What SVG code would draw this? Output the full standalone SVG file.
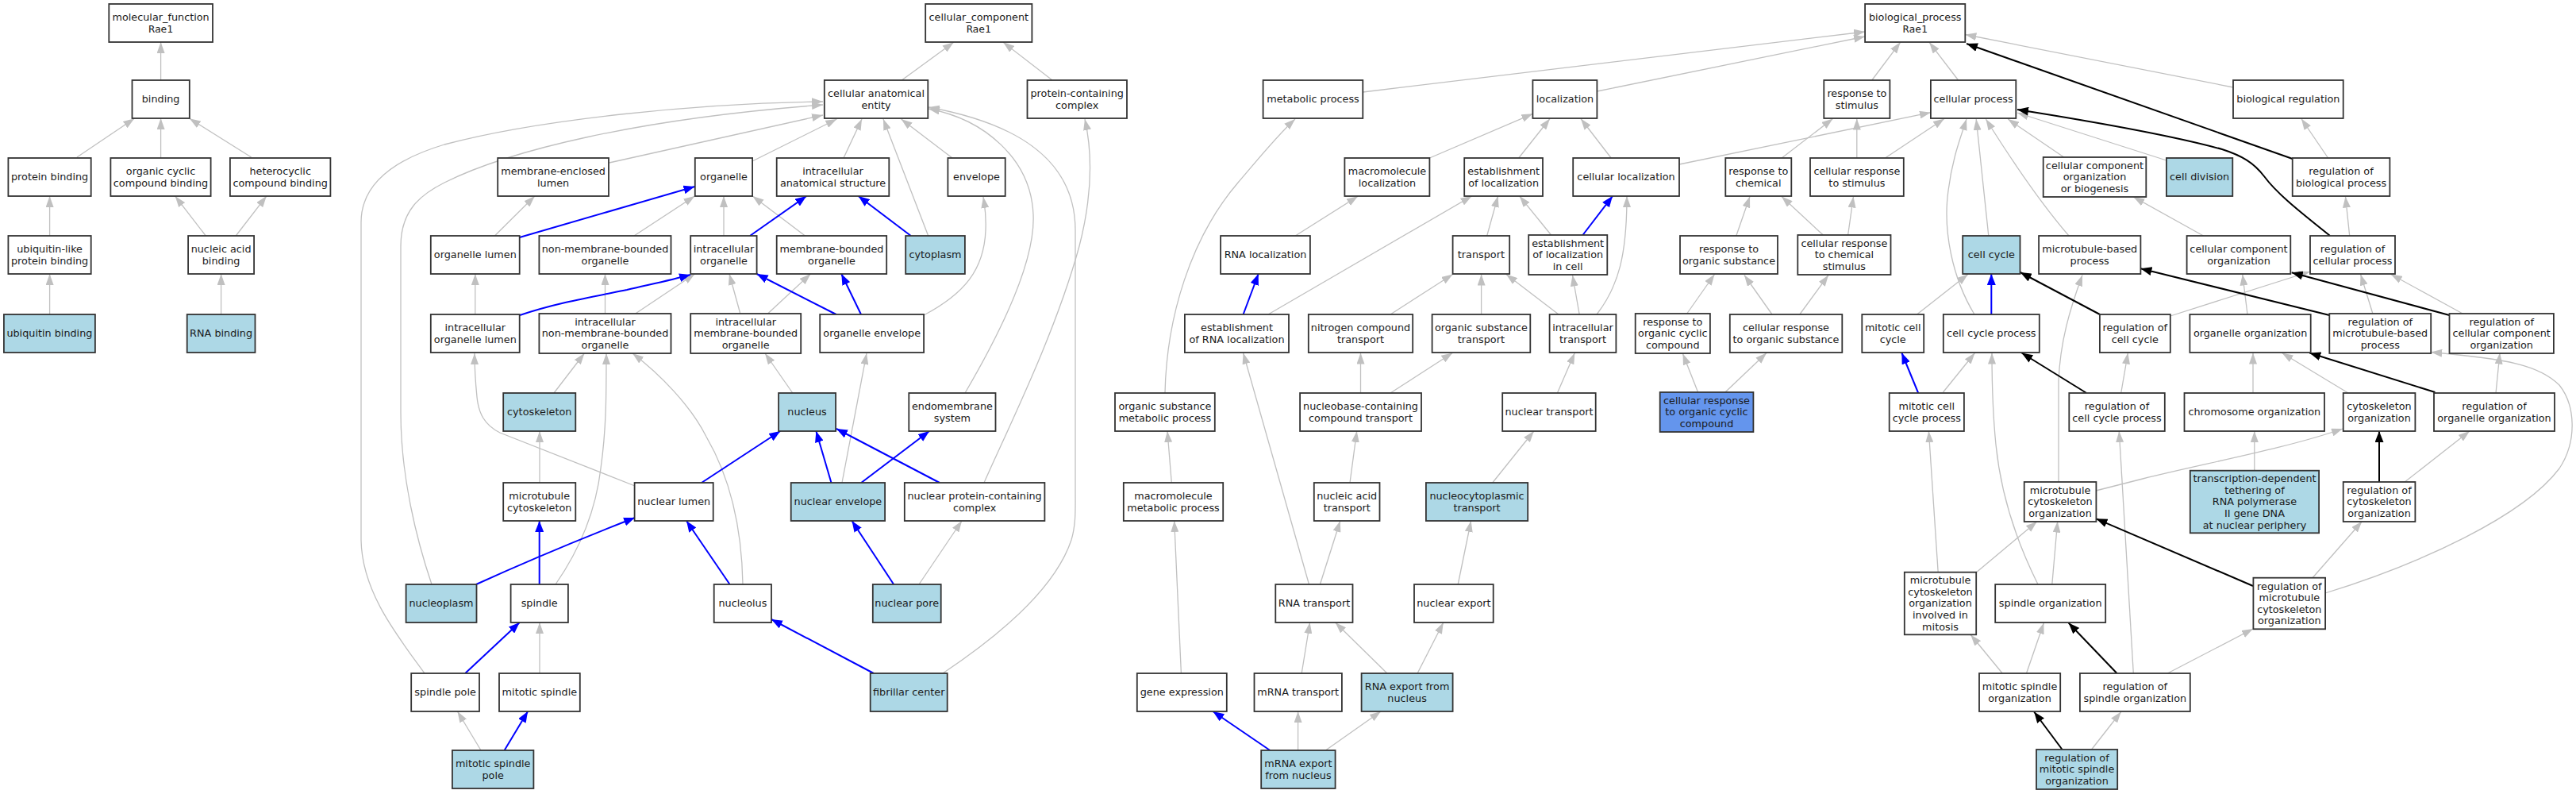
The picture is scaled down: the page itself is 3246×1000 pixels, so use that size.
<svg xmlns="http://www.w3.org/2000/svg" width="3246" height="1000" viewBox="0 0 3246 1000">
<style>
.n rect{fill:#fff;stroke:#333;stroke-width:1.8}
.n.b rect{fill:#add8e6}
.n.c rect{fill:#6495ed}
text{font-family:"DejaVu Sans","Liberation Sans",sans-serif;font-size:12.8px;fill:#1a1a1a;text-anchor:middle}
.mono{font-family:"DejaVu Sans Mono","Liberation Mono",monospace}
#edges path{fill:none}
.g{stroke:#c0c0c0;stroke-width:1.3;marker-end:url(#ag)}
.u{stroke:#0000ff;stroke-width:2;marker-end:url(#au)}
.k{stroke:#000;stroke-width:2;marker-end:url(#ak)}
</style>
<defs>
<marker id="ag" markerUnits="userSpaceOnUse" markerWidth="14" markerHeight="10" refX="14" refY="5" orient="auto"><path d="M0,0 L14,5 L0,10 z" fill="#c0c0c0"/></marker>
<marker id="au" markerUnits="userSpaceOnUse" markerWidth="14" markerHeight="11" refX="14" refY="5.5" orient="auto"><path d="M0,0 L14,5.5 L0,11 z" fill="#0000ff"/></marker>
<marker id="ak" markerUnits="userSpaceOnUse" markerWidth="14" markerHeight="11" refX="14" refY="5.5" orient="auto"><path d="M0,0 L14,5.5 L0,11 z" fill="#000"/></marker>
</defs>
<rect width="3246" height="1000" fill="#fff"/>
<g id="edges">
<path class="g" d="M202.6,101 L202.6,53"/>
<path class="g" d="M97,198 L169.3,149.3"/>
<path class="g" d="M202.6,199 L202.6,149"/>
<path class="g" d="M316.6,198 L238.8,149.3"/>
<path class="g" d="M62.6,297 L62.6,247"/>
<path class="g" d="M259.3,297 L220.7,247"/>
<path class="g" d="M297.2,297 L335.8,247"/>
<path class="g" d="M62.6,396 L62.6,345"/>
<path class="g" d="M278.6,396 L278.6,345"/>
<path class="g" d="M1136.3,101 L1201.7,53.3"/>
<path class="g" d="M1326,101 L1264.2,53.3"/>
<path class="g" d="M767.7,205 L1037,145"/>
<path class="g" d="M948,203 L1054.4,150"/>
<path class="g" d="M1063,199 L1086,150"/>
<path class="g" d="M1169.7,297 L1113,150"/>
<path class="g" d="M1200,199 L1135.6,150"/>
<path class="g" d="M535,848 C500,800 456,745 455,680 L455,280 C455,230 500,200 560,182 C680,150 880,130 1037,128"/>
<path class="g" d="M544,736 C525,680 505,600 505,520 L505,310 C505,265 530,245 560,230 C640,190 800,150 1037,132"/>
<path class="g" d="M1216,495 C1260,420 1305,330 1302,270 C1299,200 1240,150 1170,137"/>
<path class="g" d="M1188,848 C1260,800 1330,740 1350,680 C1356,660 1355,640 1355,620 L1355,290 C1355,200 1280,155 1170,135"/>
<path class="g" d="M1240,608 C1270,540 1330,420 1360,310 C1378,240 1376,190 1367,150"/>
<path class="g" d="M1164,397 C1215,370 1240,340 1242,290 C1243,270 1241,260 1239,248"/>
<path class="g" d="M800,612 L630,545 C610,535 603,520 601,500 C599,480 598,465 598,445"/>
<path class="g" d="M698,495 L736.4,445"/>
<path class="g" d="M700,736 C725,700 750,650 757,590 C764,540 764,500 764,445"/>
<path class="g" d="M936,736 C935,680 925,610 890,550 C870,510 830,470 797,445"/>
<path class="g" d="M998.8,495 L964,445"/>
<path class="g" d="M1061,608 L1092,445"/>
<path class="g" d="M1158,736 L1212,656"/>
<path class="g" d="M680,848 L680,784"/>
<path class="g" d="M606,945 L576.5,896"/>
<path class="g" d="M680,608 L680,543"/>
<path class="g" d="M598.8,396 L598.8,345"/>
<path class="g" d="M623.4,297 L673.8,247"/>
<path class="g" d="M799,297 L875.4,247"/>
<path class="g" d="M912,297 L912,247"/>
<path class="g" d="M1014.5,297 L948.4,247"/>
<path class="g" d="M762.5,395 L762.5,345"/>
<path class="g" d="M800.7,395 L875.5,345"/>
<path class="g" d="M932.8,395 L919,345"/>
<path class="g" d="M967.5,395 L1021.4,345"/>
<path class="u" d="M654.7,299 L875.4,235"/>
<path class="u" d="M945,297 L1016.2,247"/>
<path class="u" d="M1147.8,297 L1081.7,247"/>
<path class="u" d="M655,397 C700,382 740,375 790,365 C820,358 845,353 870,346"/>
<path class="u" d="M1053.7,396 L953.6,345"/>
<path class="u" d="M1085,396 L1060.3,345"/>
<path class="u" d="M884,608 L983.2,543"/>
<path class="u" d="M1047.5,608 L1028.4,543"/>
<path class="u" d="M1184,608 L1054,540"/>
<path class="u" d="M1085.2,608 L1171,543"/>
<path class="u" d="M600,736 Q690,695 800,652"/>
<path class="u" d="M679.7,736 L679.7,656"/>
<path class="u" d="M919.6,736 L865,656"/>
<path class="u" d="M1100.9,848 L972,780"/>
<path class="u" d="M1126.2,736 L1073.5,656"/>
<path class="u" d="M586.2,848 L654.7,784"/>
<path class="u" d="M635.6,945 L665.1,896"/>
<path class="g" d="M1717.3,116 L2350,40"/>
<path class="g" d="M2012.4,115 L2350,46"/>
<path class="g" d="M2358.8,101 L2394.6,53.3"/>
<path class="g" d="M2467.6,101 L2431.1,53.3"/>
<path class="g" d="M2814,110 L2476.3,43.5"/>
<path class="g" d="M2933.6,199 L2899.9,149.5"/>
<path class="g" d="M1801.4,199 L1931.4,143.3"/>
<path class="g" d="M1913.7,199 L1953,149.5"/>
<path class="g" d="M2030.2,199 L1992,149.5"/>
<path class="g" d="M2116,207 L2432.9,141.7"/>
<path class="g" d="M1468,495 C1470,400 1500,300 1560,230 C1590,195 1610,170 1632,150"/>
<path class="g" d="M1632.2,297 L1711,247.3"/>
<path class="g" d="M1598,396 L1854.6,247"/>
<path class="g" d="M1873.7,297 L1887.6,247"/>
<path class="g" d="M1955.4,297 L1914.8,247"/>
<path class="g" d="M2012,396 C2040,360 2050,320 2050,247"/>
<path class="g" d="M1990.2,396 L1981.5,346.5"/>
<path class="g" d="M1964,396 L1898,345.5"/>
<path class="g" d="M1866.6,396 L1866.6,345.5"/>
<path class="g" d="M1752,396 L1830.6,345.5"/>
<path class="g" d="M1714.5,495 L1714.5,444.5"/>
<path class="g" d="M1752,495 L1830.3,444.5"/>
<path class="g" d="M1962.4,495 L1984.3,444.5"/>
<path class="g" d="M1701,608 L1709.7,543"/>
<path class="g" d="M1880.7,608 L1932.8,543"/>
<path class="g" d="M1663.4,736 L1688.8,656"/>
<path class="g" d="M1649.5,736 L1566.6,444.5"/>
<path class="g" d="M1837.2,736 L1853.6,656"/>
<path class="g" d="M1640.2,848 L1650.6,784"/>
<path class="g" d="M1747.9,848 L1682.6,784"/>
<path class="g" d="M1786.1,848 L1818.8,784"/>
<path class="g" d="M1635.6,945 L1635.6,896"/>
<path class="g" d="M1670.4,945 L1740,896"/>
<path class="g" d="M1488.4,848 L1479.7,656"/>
<path class="g" d="M1476.3,608 L1471,543"/>
<path class="g" d="M2245.2,199 L2309.5,149.5"/>
<path class="g" d="M2339.8,199 L2339.8,149.5"/>
<path class="g" d="M2375.5,199 L2450,149.5"/>
<path class="g" d="M2187.8,297 L2205,247.5"/>
<path class="g" d="M2297.3,296 L2245,247.5"/>
<path class="g" d="M2328.6,296 L2335.5,247.5"/>
<path class="g" d="M2233,396 L2198,346.5"/>
<path class="g" d="M2267.8,396 L2304,346.5"/>
<path class="g" d="M2125.7,395 L2160.5,345.5"/>
<path class="g" d="M2139.6,494 L2120.5,445.5"/>
<path class="g" d="M2173.9,494 L2226,444.5"/>
<path class="g" d="M2505.8,297 L2490.2,150"/>
<path class="g" d="M2488,396 C2460,350 2448,290 2455,240 C2460,200 2470,175 2478,150"/>
<path class="g" d="M2607,297 C2575,260 2540,210 2502.4,150"/>
<path class="g" d="M2600.7,198 L2530.2,150"/>
<path class="g" d="M2729.9,202 L2542,142"/>
<path class="g" d="M2960.7,297 L2955.5,247.5"/>
<path class="g" d="M2776.5,297 L2688.3,248"/>
<path class="g" d="M2415.5,396 L2479.8,345.5"/>
<path class="g" d="M2734.8,398 L2911,342"/>
<path class="g" d="M2448.5,494 L2488.5,444.5"/>
<path class="g" d="M2568,736 C2545,690 2522,630 2515,560 C2511,520 2510,480 2510,444.5"/>
<path class="g" d="M2594,608 L2594,480 C2596,430 2608,390 2624,346.5"/>
<path class="g" d="M2672.7,495 L2681.4,444.5"/>
<path class="g" d="M2688.3,848 L2670.3,543"/>
<path class="g" d="M2990.2,396 L2974.6,345.5"/>
<path class="g" d="M3105,396 L3012.8,345.5"/>
<path class="g" d="M2832,396 L2825.8,345.5"/>
<path class="g" d="M2839,495 L2839,444.5"/>
<path class="g" d="M2959,495 L2875.5,444.5"/>
<path class="g" d="M3145,495 L3150,444.5"/>
<path class="g" d="M2930,747 C3050,710 3180,650 3225,590 C3248,555 3245,510 3225,485 C3200,460 3160,452 3063.2,443.5"/>
<path class="g" d="M2840.8,593 L2840.8,543"/>
<path class="g" d="M3030.2,607 L3111.9,543"/>
<path class="g" d="M2641,618 L2700,603 C2780,583 2880,565 2952,540"/>
<path class="g" d="M2913.8,728 L2976.3,656.7"/>
<path class="g" d="M2490.2,721 L2566.7,657"/>
<path class="g" d="M2442.2,721 L2430.4,543"/>
<path class="g" d="M2585.8,736 L2592.7,656.7"/>
<path class="g" d="M2523.2,848 L2483.3,799.5"/>
<path class="g" d="M2553.5,848 L2575.4,784.5"/>
<path class="g" d="M2731.3,848 L2839,792"/>
<path class="g" d="M2635.5,944 L2672.7,896.5"/>
<path class="k" d="M2888.7,200 L2478,55"/>
<path class="k" d="M2936,297 C2900,268 2870,245 2853,222 C2840,205 2825,196 2800,188 C2760,177 2700,163 2542,138"/>
<path class="k" d="M2646,396 L2545.8,343"/>
<path class="k" d="M2629.2,495 L2547.5,444.5"/>
<path class="k" d="M2935.3,397 L2697.4,338.3"/>
<path class="k" d="M3086.5,397 L2887.7,343.3"/>
<path class="k" d="M3068.4,494 L2910.3,444.5"/>
<path class="k" d="M2998,608 L2998,543"/>
<path class="k" d="M2839,738 L2641.4,653.3"/>
<path class="k" d="M2667.5,848 L2606.6,784.5"/>
<path class="k" d="M2598.6,944 L2563.2,896.5"/>
<path class="u" d="M1566.6,396 L1585.7,345"/>
<path class="u" d="M1993.7,297 L2032,247"/>
<path class="u" d="M1600.3,945 L1528.4,896"/>
<path class="u" d="M2509.3,396 L2509.3,345"/>
<path class="u" d="M2417.2,495 L2396.4,444.5"/>
</g>
<g id="mf" class="n"><rect x="137.3" y="5" width="130.7" height="48"/><text x="202.6" y="26.1">molecular_function<tspan x="202.6" dy="14.6" class="mono">Rae1</tspan></text></g>
<g id="binding" class="n"><rect x="166.5" y="101" width="72.3" height="48"/><text x="202.6" y="129.4">binding</text></g>
<g id="protein_binding" class="n"><rect x="10.4" y="199" width="104.3" height="48"/><text x="62.6" y="227.4">protein binding</text></g>
<g id="organic_cyclic_binding" class="n"><rect x="139.4" y="199" width="126.2" height="48"/><text x="202.5" y="220.1">organic cyclic<tspan x="202.5" dy="14.6">compound binding</tspan></text></g>
<g id="heterocyclic_binding" class="n"><rect x="289.9" y="199" width="126.5" height="48"/><text x="353.2" y="220.1">heterocyclic<tspan x="353.2" dy="14.6">compound binding</tspan></text></g>
<g id="ubl_binding" class="n"><rect x="10.4" y="297" width="104.3" height="48"/><text x="62.6" y="318.1">ubiquitin-like<tspan x="62.6" dy="14.6">protein binding</tspan></text></g>
<g id="nucleic_acid_binding" class="n"><rect x="237.1" y="297" width="83" height="48"/><text x="278.6" y="318.1">nucleic acid<tspan x="278.6" dy="14.6">binding</tspan></text></g>
<g id="ubiquitin_binding" class="n b"><rect x="4.9" y="396" width="115" height="48"/><text x="62.4" y="424.4">ubiquitin binding</text></g>
<g id="rna_binding" class="n b"><rect x="235.7" y="396" width="85.8" height="48"/><text x="278.6" y="424.4">RNA binding</text></g>
<g id="cc" class="n"><rect x="1166.2" y="5" width="134.2" height="48"/><text x="1233.3" y="26.1">cellular_component<tspan x="1233.3" dy="14.6" class="mono">Rae1</tspan></text></g>
<g id="cae" class="n"><rect x="1038.8" y="101" width="130.5" height="48"/><text x="1104" y="122.1">cellular anatomical<tspan x="1104" dy="14.6">entity</tspan></text></g>
<g id="pcc" class="n"><rect x="1294.5" y="101" width="125.5" height="48"/><text x="1357.2" y="122.1">protein-containing<tspan x="1357.2" dy="14.6">complex</tspan></text></g>
<g id="mel" class="n"><rect x="627.2" y="199" width="139.8" height="48"/><text x="697.1" y="220.1">membrane-enclosed<tspan x="697.1" dy="14.6">lumen</tspan></text></g>
<g id="organelle" class="n"><rect x="875.8" y="199" width="72.3" height="48"/><text x="912" y="227.4">organelle</text></g>
<g id="ias" class="n"><rect x="978.7" y="199" width="141.6" height="48"/><text x="1049.5" y="220.1">intracellular<tspan x="1049.5" dy="14.6">anatomical structure</tspan></text></g>
<g id="envelope" class="n"><rect x="1194.4" y="199" width="72.3" height="48"/><text x="1230.5" y="227.4">envelope</text></g>
<g id="organelle_lumen" class="n"><rect x="542.8" y="297" width="111.9" height="48"/><text x="598.8" y="325.4">organelle lumen</text></g>
<g id="nmbo" class="n"><rect x="679.4" y="297" width="166.1" height="48"/><text x="762.5" y="318.1">non-membrane-bounded<tspan x="762.5" dy="14.6">organelle</tspan></text></g>
<g id="io" class="n"><rect x="870.2" y="297" width="83.4" height="48"/><text x="912" y="318.1">intracellular<tspan x="912" dy="14.6">organelle</tspan></text></g>
<g id="mbo" class="n"><rect x="978.7" y="297" width="138.5" height="48"/><text x="1048" y="318.1">membrane-bounded<tspan x="1048" dy="14.6">organelle</tspan></text></g>
<g id="cytoplasm" class="n b"><rect x="1141.2" y="297" width="74.7" height="48"/><text x="1178.5" y="325.4">cytoplasm</text></g>
<g id="iol" class="n"><rect x="542.8" y="396" width="111.9" height="48"/><text x="598.8" y="417.1">intracellular<tspan x="598.8" dy="14.6">organelle lumen</tspan></text></g>
<g id="inmbo" class="n"><rect x="679.4" y="395" width="166.1" height="50"/><text x="762.5" y="409.8">intracellular<tspan x="762.5" dy="14.6">non-membrane-bounded</tspan><tspan x="762.5" dy="14.6">organelle</tspan></text></g>
<g id="imbo" class="n"><rect x="870.2" y="395" width="139" height="50"/><text x="939.7" y="409.8">intracellular<tspan x="939.7" dy="14.6">membrane-bounded</tspan><tspan x="939.7" dy="14.6">organelle</tspan></text></g>
<g id="organelle_envelope" class="n"><rect x="1033.2" y="396" width="130.9" height="48"/><text x="1098.7" y="424.4">organelle envelope</text></g>
<g id="cytoskeleton" class="n b"><rect x="634.2" y="495" width="91.1" height="48"/><text x="679.7" y="523.4">cytoskeleton</text></g>
<g id="nucleus" class="n b"><rect x="981.1" y="495" width="72" height="48"/><text x="1017" y="523.4">nucleus</text></g>
<g id="endomembrane" class="n"><rect x="1145.3" y="495" width="109.2" height="48"/><text x="1199.9" y="516.1">endomembrane<tspan x="1199.9" dy="14.6">system</tspan></text></g>
<g id="mt_cytoskeleton" class="n"><rect x="634.2" y="608" width="91.1" height="48"/><text x="679.7" y="629.1">microtubule<tspan x="679.7" dy="14.6">cytoskeleton</tspan></text></g>
<g id="nuclear_lumen" class="n"><rect x="799.6" y="608" width="99.1" height="48"/><text x="849.2" y="636.4">nuclear lumen</text></g>
<g id="nuclear_envelope" class="n b"><rect x="996.7" y="608" width="118.4" height="48"/><text x="1055.9" y="636.4">nuclear envelope</text></g>
<g id="npcc" class="n"><rect x="1139.8" y="608" width="176.6" height="48"/><text x="1228.1" y="629.1">nuclear protein-containing<tspan x="1228.1" dy="14.6">complex</tspan></text></g>
<g id="nucleoplasm" class="n b"><rect x="511.6" y="736" width="88.9" height="48"/><text x="556" y="764.4">nucleoplasm</text></g>
<g id="spindle" class="n"><rect x="643.6" y="736" width="72.3" height="48"/><text x="679.7" y="764.4">spindle</text></g>
<g id="nucleolus" class="n"><rect x="899.7" y="736" width="72.3" height="48"/><text x="935.9" y="764.4">nucleolus</text></g>
<g id="nuclear_pore" class="n b"><rect x="1099.8" y="736" width="85.9" height="48"/><text x="1142.7" y="764.4">nuclear pore</text></g>
<g id="spindle_pole" class="n"><rect x="518.2" y="848" width="85.8" height="48"/><text x="561.1" y="876.4">spindle pole</text></g>
<g id="mitotic_spindle" class="n"><rect x="629" y="848" width="101.8" height="48"/><text x="679.9" y="876.4">mitotic spindle</text></g>
<g id="fibrillar_center" class="n b"><rect x="1096.7" y="848" width="97" height="48"/><text x="1145.2" y="876.4">fibrillar center</text></g>
<g id="msp" class="n b"><rect x="569.9" y="945" width="102.5" height="48"/><text x="621.2" y="966.1">mitotic spindle<tspan x="621.2" dy="14.6">pole</tspan></text></g>
<g id="bp" class="n"><rect x="2350.1" y="5" width="126.2" height="48"/><text x="2413.2" y="26.1">biological_process<tspan x="2413.2" dy="14.6" class="mono">Rae1</tspan></text></g>
<g id="metabolic_process" class="n"><rect x="1591.6" y="101" width="125.7" height="48"/><text x="1654.5" y="129.4">metabolic process</text></g>
<g id="localization" class="n"><rect x="1931.4" y="101" width="81" height="48"/><text x="1972" y="129.4">localization</text></g>
<g id="rts" class="n"><rect x="2298.3" y="101" width="83.1" height="48"/><text x="2339.9" y="122.1">response to<tspan x="2339.9" dy="14.6">stimulus</tspan></text></g>
<g id="cellular_process" class="n"><rect x="2432.9" y="101" width="107.4" height="48"/><text x="2486.6" y="129.4">cellular process</text></g>
<g id="bio_reg" class="n"><rect x="2814" y="101" width="138.7" height="48"/><text x="2883.4" y="129.4">biological regulation</text></g>
<g id="macro_loc" class="n"><rect x="1694.4" y="199" width="107" height="48"/><text x="1748" y="220.1">macromolecule<tspan x="1748" dy="14.6">localization</tspan></text></g>
<g id="estab_loc" class="n"><rect x="1845.2" y="199" width="98.8" height="48"/><text x="1894.6" y="220.1">establishment<tspan x="1894.6" dy="14.6">of localization</tspan></text></g>
<g id="cell_loc" class="n"><rect x="1982.2" y="199" width="133.8" height="48"/><text x="2049" y="227.4">cellular localization</text></g>
<g id="rtc" class="n"><rect x="2174.3" y="199" width="83" height="48"/><text x="2215.8" y="220.1">response to<tspan x="2215.8" dy="14.6">chemical</tspan></text></g>
<g id="crs" class="n"><rect x="2281" y="199" width="117.8" height="48"/><text x="2339.9" y="220.1">cellular response<tspan x="2339.9" dy="14.6">to stimulus</tspan></text></g>
<g id="ccob" class="n"><rect x="2574.7" y="198" width="129.6" height="50"/><text x="2639.5" y="212.8">cellular component<tspan x="2639.5" dy="14.6">organization</tspan><tspan x="2639.5" dy="14.6">or biogenesis</tspan></text></g>
<g id="cell_division" class="n b"><rect x="2729.9" y="199" width="83.4" height="48"/><text x="2771.6" y="227.4">cell division</text></g>
<g id="rbp" class="n"><rect x="2888.7" y="199" width="122.7" height="48"/><text x="2950" y="220.1">regulation of<tspan x="2950" dy="14.6">biological process</tspan></text></g>
<g id="rna_loc" class="n"><rect x="1538.1" y="297" width="112.8" height="48"/><text x="1594.5" y="325.4">RNA localization</text></g>
<g id="transport" class="n"><rect x="1830.6" y="297" width="71.6" height="48"/><text x="1866.4" y="325.4">transport</text></g>
<g id="elic" class="n"><rect x="1926.2" y="296" width="99.1" height="50"/><text x="1975.7" y="310.8">establishment<tspan x="1975.7" dy="14.6">of localization</tspan><tspan x="1975.7" dy="14.6">in cell</tspan></text></g>
<g id="ros" class="n"><rect x="2117" y="297" width="123" height="48"/><text x="2178.5" y="318.1">response to<tspan x="2178.5" dy="14.6">organic substance</tspan></text></g>
<g id="crcs" class="n"><rect x="2265.3" y="296" width="117.2" height="50"/><text x="2323.9" y="310.8">cellular response<tspan x="2323.9" dy="14.6">to chemical</tspan><tspan x="2323.9" dy="14.6">stimulus</tspan></text></g>
<g id="cell_cycle" class="n b"><rect x="2473.2" y="297" width="72.3" height="48"/><text x="2509.3" y="325.4">cell cycle</text></g>
<g id="mtbp" class="n"><rect x="2569.1" y="297" width="128.3" height="48"/><text x="2633.2" y="318.1">microtubule-based<tspan x="2633.2" dy="14.6">process</tspan></text></g>
<g id="cco" class="n"><rect x="2755.6" y="297" width="130.7" height="48"/><text x="2821" y="318.1">cellular component<tspan x="2821" dy="14.6">organization</tspan></text></g>
<g id="rcp" class="n"><rect x="2911" y="297" width="107" height="48"/><text x="2964.5" y="318.1">regulation of<tspan x="2964.5" dy="14.6">cellular process</tspan></text></g>
<g id="erl" class="n"><rect x="1492.9" y="396" width="131.1" height="48"/><text x="1558.5" y="417.1">establishment<tspan x="1558.5" dy="14.6">of RNA localization</tspan></text></g>
<g id="nct" class="n"><rect x="1648.8" y="396" width="131.4" height="48"/><text x="1714.5" y="417.1">nitrogen compound<tspan x="1714.5" dy="14.6">transport</tspan></text></g>
<g id="ost" class="n"><rect x="1804.6" y="396" width="123.7" height="48"/><text x="1866.4" y="417.1">organic substance<tspan x="1866.4" dy="14.6">transport</tspan></text></g>
<g id="it" class="n"><rect x="1952.6" y="396" width="83.8" height="48"/><text x="1994.5" y="417.1">intracellular<tspan x="1994.5" dy="14.6">transport</tspan></text></g>
<g id="rocc" class="n"><rect x="2060.7" y="395" width="94.2" height="50"/><text x="2107.8" y="409.8">response to<tspan x="2107.8" dy="14.6">organic cyclic</tspan><tspan x="2107.8" dy="14.6">compound</tspan></text></g>
<g id="cros" class="n"><rect x="2179.8" y="396" width="141.5" height="48"/><text x="2250.5" y="417.1">cellular response<tspan x="2250.5" dy="14.6">to organic substance</tspan></text></g>
<g id="mcc" class="n"><rect x="2346.3" y="396" width="77.9" height="48"/><text x="2385.2" y="417.1">mitotic cell<tspan x="2385.2" dy="14.6">cycle</tspan></text></g>
<g id="ccp" class="n"><rect x="2448.8" y="396" width="121" height="48"/><text x="2509.3" y="424.4">cell cycle process</text></g>
<g id="rcc" class="n"><rect x="2645.9" y="396" width="88.9" height="48"/><text x="2690.3" y="417.1">regulation of<tspan x="2690.3" dy="14.6">cell cycle</tspan></text></g>
<g id="oo" class="n"><rect x="2759.4" y="396" width="152.3" height="48"/><text x="2835.6" y="424.4">organelle organization</text></g>
<g id="rmtbp" class="n"><rect x="2935.3" y="395" width="127.9" height="50"/><text x="2999.3" y="409.8">regulation of<tspan x="2999.3" dy="14.6">microtubule-based</tspan><tspan x="2999.3" dy="14.6">process</tspan></text></g>
<g id="rcco" class="n"><rect x="3086.5" y="395" width="131.4" height="50"/><text x="3152.2" y="409.8">regulation of<tspan x="3152.2" dy="14.6">cellular component</tspan><tspan x="3152.2" dy="14.6">organization</tspan></text></g>
<g id="osmp" class="n"><rect x="1405" y="495" width="125.8" height="48"/><text x="1467.9" y="516.1">organic substance<tspan x="1467.9" dy="14.6">metabolic process</tspan></text></g>
<g id="nbct" class="n"><rect x="1638.1" y="495" width="152.9" height="48"/><text x="1714.5" y="516.1">nucleobase-containing<tspan x="1714.5" dy="14.6">compound transport</tspan></text></g>
<g id="nuclear_transport" class="n"><rect x="1893.2" y="495" width="117.5" height="48"/><text x="1952" y="523.4">nuclear transport</text></g>
<g id="crocc" class="n c"><rect x="2091.7" y="494" width="117.7" height="50"/><text x="2150.5" y="508.8">cellular response<tspan x="2150.5" dy="14.6">to organic cyclic</tspan><tspan x="2150.5" dy="14.6">compound</tspan></text></g>
<g id="mccp" class="n"><rect x="2380.7" y="495" width="94.2" height="48"/><text x="2427.8" y="516.1">mitotic cell<tspan x="2427.8" dy="14.6">cycle process</tspan></text></g>
<g id="rccp" class="n"><rect x="2607.3" y="495" width="120.5" height="48"/><text x="2667.5" y="516.1">regulation of<tspan x="2667.5" dy="14.6">cell cycle process</tspan></text></g>
<g id="chrom_org" class="n"><rect x="2752.5" y="495" width="176.5" height="48"/><text x="2840.8" y="523.4">chromosome organization</text></g>
<g id="cyto_org" class="n"><rect x="2952.7" y="495" width="90.7" height="48"/><text x="2998" y="516.1">cytoskeleton<tspan x="2998" dy="14.6">organization</tspan></text></g>
<g id="roo" class="n"><rect x="3067" y="495" width="152" height="48"/><text x="3143" y="516.1">regulation of<tspan x="3143" dy="14.6">organelle organization</tspan></text></g>
<g id="mmp" class="n"><rect x="1415.8" y="608" width="125.4" height="48"/><text x="1478.5" y="629.1">macromolecule<tspan x="1478.5" dy="14.6">metabolic process</tspan></text></g>
<g id="nat" class="n"><rect x="1655.8" y="608" width="82.7" height="48"/><text x="1697.2" y="629.1">nucleic acid<tspan x="1697.2" dy="14.6">transport</tspan></text></g>
<g id="ncpt" class="n b"><rect x="1796.9" y="608" width="128.3" height="48"/><text x="1861" y="629.1">nucleocytoplasmic<tspan x="1861" dy="14.6">transport</tspan></text></g>
<g id="mtco" class="n"><rect x="2550.7" y="607" width="90.7" height="50"/><text x="2596" y="621.8">microtubule<tspan x="2596" dy="14.6">cytoskeleton</tspan><tspan x="2596" dy="14.6">organization</tspan></text></g>
<g id="tdt" class="n b"><rect x="2759.8" y="592.7" width="162.3" height="78.6"/><text x="2841" y="607.2">transcription-dependent<tspan x="2841" dy="14.6">tethering of</tspan><tspan x="2841" dy="14.6">RNA polymerase</tspan><tspan x="2841" dy="14.6">II gene DNA</tspan><tspan x="2841" dy="14.6">at nuclear periphery</tspan></text></g>
<g id="rco" class="n"><rect x="2952.7" y="607" width="90.7" height="50"/><text x="2998" y="621.8">regulation of<tspan x="2998" dy="14.6">cytoskeleton</tspan><tspan x="2998" dy="14.6">organization</tspan></text></g>
<g id="rna_transport" class="n"><rect x="1607.3" y="736" width="97.2" height="48"/><text x="1656" y="764.4">RNA transport</text></g>
<g id="nuclear_export" class="n"><rect x="1782" y="736" width="99.7" height="48"/><text x="1831.9" y="764.4">nuclear export</text></g>
<g id="mtcom" class="n"><rect x="2399.8" y="720.7" width="90.4" height="78.6"/><text x="2445" y="735.2">microtubule<tspan x="2445" dy="14.6">cytoskeleton</tspan><tspan x="2445" dy="14.6">organization</tspan><tspan x="2445" dy="14.6">involved in</tspan><tspan x="2445" dy="14.6">mitosis</tspan></text></g>
<g id="spindle_org" class="n"><rect x="2514.2" y="736" width="139" height="48"/><text x="2583.7" y="764.4">spindle organization</text></g>
<g id="rmtco" class="n"><rect x="2839.4" y="727.7" width="90.7" height="64.6"/><text x="2884.8" y="742.5">regulation of<tspan x="2884.8" dy="14.6">microtubule</tspan><tspan x="2884.8" dy="14.6">cytoskeleton</tspan><tspan x="2884.8" dy="14.6">organization</tspan></text></g>
<g id="gene_expression" class="n"><rect x="1432.8" y="848" width="113" height="48"/><text x="1489.3" y="876.4">gene expression</text></g>
<g id="mrna_transport" class="n"><rect x="1580.5" y="848" width="110.4" height="48"/><text x="1635.7" y="876.4">mRNA transport</text></g>
<g id="rna_export" class="n b"><rect x="1715.6" y="848" width="115" height="48"/><text x="1773.1" y="869.1">RNA export from<tspan x="1773.1" dy="14.6">nucleus</tspan></text></g>
<g id="mso" class="n"><rect x="2494" y="848" width="102.2" height="48"/><text x="2545" y="869.1">mitotic spindle<tspan x="2545" dy="14.6">organization</tspan></text></g>
<g id="rso" class="n"><rect x="2620.9" y="848" width="138.9" height="48"/><text x="2690.3" y="869.1">regulation of<tspan x="2690.3" dy="14.6">spindle organization</tspan></text></g>
<g id="mrna_export" class="n b"><rect x="1589.2" y="945" width="93.4" height="48"/><text x="1635.9" y="966.1">mRNA export<tspan x="1635.9" dy="14.6">from nucleus</tspan></text></g>
<g id="rmso" class="n b"><rect x="2566" y="944" width="102.2" height="50"/><text x="2617" y="958.8">regulation of<tspan x="2617" dy="14.6">mitotic spindle</tspan><tspan x="2617" dy="14.6">organization</tspan></text></g>
</svg>
